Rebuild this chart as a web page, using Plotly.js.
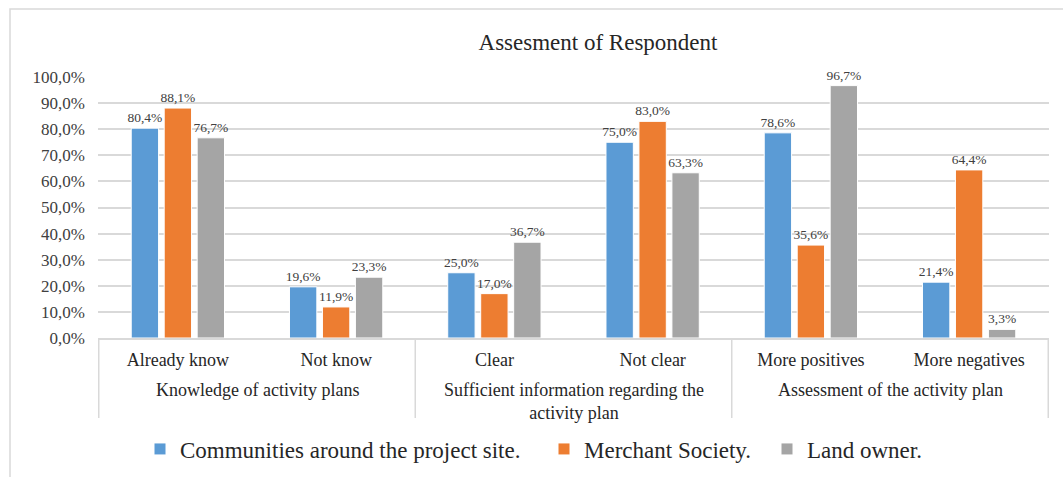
<!DOCTYPE html>
<html>
<head>
<meta charset="utf-8">
<script src="https://cdn.plot.ly/plotly-3.0.1.min.js"></script>
<style>html,body{margin:0;padding:0;background:#fff;}#chart{width:1063px;height:477px;}</style>
</head>
<body>
<div id="chart"></div>
<script>
const categories = ["Already know", "Not know", "Clear", "Not clear", "More positives", "More negatives"];
const groups = ["Knowledge of activity plans", "Sufficient information regarding the<br>activity plan", "Assessment of the activity plan"];
const seriesNames = ["Communities around the project site.", "Merchant Society.", "Land owner."];
const communities = [0.804, 0.196, 0.250, 0.750, 0.786, 0.214];
const merchant = [0.881, 0.119, 0.170, 0.830, 0.356, 0.644];
const landOwner = [0.767, 0.233, 0.367, 0.633, 0.967, 0.033];
const yTicks = [0, 0.1, 0.2, 0.3, 0.4, 0.5, 0.6, 0.7, 0.8, 0.9, 1.0];

const colors = ["#5B9BD5", "#ED7D31", "#A5A5A5"];
const serif = "'Liberation Serif', 'Times New Roman', 'DejaVu Serif', serif";
const values = [communities, merchant, landOwner];
const legendIds = ["legend", "legend2", "legend3"];

const traces = values.map((v, i) => ({
  type: "bar",
  x: categories,
  y: v,
  name: seriesNames[i],
  legend: legendIds[i],
  marker: {color: colors[i], line: {color: "#ffffff", width: 1}},
  texttemplate: "%{y:.1%}",
  textposition: "outside",
  constraintext: "none",
  textfont: {family: serif, size: 13.5, color: "#404040"},
  cliponaxis: false,
  hoverinfo: "x+y+name"
}));

// plot area: x 98..1049, y 77..338
const L = 98, R = 1049, T = 77, B = 338;
const H = B - T;
const py = (pix) => -(pix - B) / H;   // pixel y below plot -> paper y

const shapes = [
  {type: "rect", xref: "paper", yref: "paper", x0: (10 - L) / (R - L), x1: 1.05, y0: -0.6, y1: (B - 9) / H,
   line: {color: "#d9d9d9", width: 1.5}, fillcolor: "rgba(0,0,0,0)", layer: "below"}
];
[-0.5, 1.5, 3.5, 5.5].forEach(xv => shapes.push({
  type: "line", xref: "x", yref: "paper", x0: xv, x1: xv, y0: 0, y1: py(418),
  line: {color: "#d9d9d9", width: 1.5}
}));

const annotations = groups.map((g, i) => ({
  xref: "x", yref: "paper", x: 2 * i + 0.5, y: py(378), yanchor: "top", xanchor: "center",
  text: g, showarrow: false, font: {family: serif, size: 18, color: "#262626"}
}));

const legendX = [140, 544, 767];
const legendBase = (xp) => ({
  orientation: "h", xref: "container", x: xp / 1063, xanchor: "left",
  yref: "container", y: 1 - 449 / 477, yanchor: "middle",
  font: {family: serif, size: 23, color: "#262626"}, bgcolor: "rgba(0,0,0,0)", borderwidth: 0
});

const layout = {
  width: 1063, height: 477,
  margin: {l: L, r: 1063 - R, t: T, b: 477 - B, pad: 0},
  paper_bgcolor: "#ffffff", plot_bgcolor: "#ffffff",
  font: {family: serif},
  separators: ", ",
  title: {text: "Assesment of Respondent", x: 598 / 1063, xref: "container", xanchor: "center",
          y: 1 - 42 / 477, yref: "container", yanchor: "middle",
          font: {family: serif, size: 23, color: "#262626"}},
  barmode: "group", bargap: 0.375, bargroupgap: 0.17,
  xaxis: {type: "category", categoryarray: categories, showline: true, linecolor: "#d9d9d9", linewidth: 1.5,
          ticks: "", ticklabelstandoff: 5, tickfont: {family: serif, size: 18, color: "#262626"},
          showgrid: false, zeroline: false, fixedrange: true, automargin: false},
  yaxis: {range: [0, 1], tickvals: yTicks, tickformat: ".1%", showgrid: true, gridcolor: "#d9d9d9", gridwidth: 1.5,
          zeroline: false, showline: false, ticks: "", ticklabelstandoff: 12, automargin: false,
          tickfont: {family: serif, size: 17, color: "#404040"}, fixedrange: true},
  showlegend: true,
  legend: legendBase(legendX[0]),
  legend2: legendBase(legendX[1]),
  legend3: legendBase(legendX[2]),
  shapes: shapes,
  annotations: annotations
};

Plotly.newPlot("chart", traces, layout, {displayModeBar: false, responsive: false});
</script>
</body>
</html>
